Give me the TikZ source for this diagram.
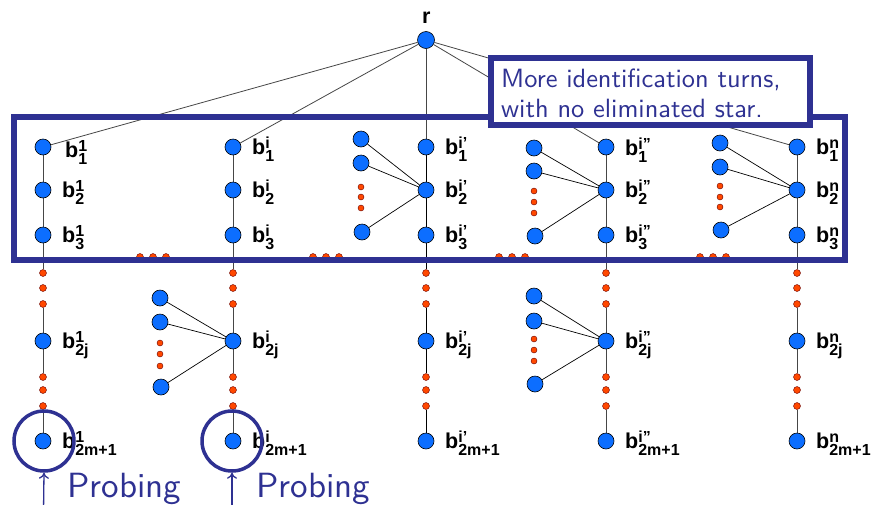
\documentclass[tikz,border=0pt]{standalone}
\usepackage{fontspec}
\setsansfont{lmsans10-regular.otf}
\newfontfamily\arialfont{Liberation Sans}
\usetikzlibrary{arrows.meta}
\pgfdeclarelayer{bg}
\pgfsetlayers{bg,main}

\definecolor{navy}{RGB}{46,49,146}
\definecolor{vblue}{RGB}{12,110,255}
\definecolor{dotred}{RGB}{255,72,0}
\definecolor{linegray}{RGB}{70,70,70}

% bold b with stacked super- and subscript
\newcommand\blab[2]{{\fontsize{21.5}{21}\selectfont b}\rlap{\raisebox{5.5pt}{\fontsize{16}{16}\selectfont #1}}\raisebox{-7pt}{\fontsize{16}{16}\selectfont #2}}

\begin{document}
\begin{tikzpicture}[x=1pt,y=-1pt,
  vtx/.style={circle, fill=vblue, draw=black, line width=0.6pt, minimum size=16pt, inner sep=0pt},
  reddot/.style={circle, fill=dotred, draw=black!60!red, line width=0.4pt, minimum size=7pt, inner sep=0pt},
  stardot/.style={reddot, minimum size=6pt},
  colline/.style={draw=linegray, line width=0.8pt},
  starline/.style={draw=black, line width=0.7pt},
  lab/.style={anchor=base west, inner sep=0pt, font=\arialfont\bfseries},
  frame/.style={draw=navy, line width=5.5pt},
  notebox/.style={draw=navy, fill=white, line width=6pt, rectangle, inner sep=0pt},
  notetext/.style={text=navy, font=\sffamily\fontsize{26.4}{30}\selectfont, align=left, inner sep=0pt},
  probe/.style={circle, draw=navy, line width=3.5pt, minimum size=60pt, inner sep=0pt},
  probetext/.style={text=navy, font=\sffamily\fontsize{35}{40}\selectfont, anchor=base west, inner sep=0pt},
  probearrow/.style={draw=navy, line width=1.3pt, -{To[length=6pt,width=10pt]}}
]
\useasboundingbox (0,0) rectangle (872,504);
\clip (0,0) rectangle (872,504);

% root
\node[vtx, minimum size=17pt] (r) at (426,40) {};
\node[lab, font=\arialfont\bfseries\fontsize{21.5}{21}\selectfont] (rl) at (422,23.5) {r};

% the five columns of the tree
\foreach \k/\x/\s/\lx/\ly/\cc in {a/43/1/22/3/linegray, b/233/i/19/0/linegray, c/426/i’/19/0/black, d/606/i”/19/1/linegray, e/797/n/19/0/linegray} {
  \node[vtx] (\k1) at (\x,147) {};
  \node[vtx] (\k2) at (\x,190) {};
  \node[vtx] (\k3) at (\x,235) {};
  \node[reddot] (\k u1) at (\x,273) {};
  \node[reddot] (\k u2) at (\x,288) {};
  \node[reddot] (\k u3) at (\x,304) {};
  \node[vtx] (\k j) at (\x,341) {};
  \node[reddot] (\k v1) at (\x,377) {};
  \node[reddot] (\k v2) at (\x,390) {};
  \node[reddot] (\k v3) at (\x,406) {};
  \node[vtx] (\k m) at (\x,441) {};
  \node[lab] (\k1l) at (\x+\lx,154+\ly) {\blab{\s}{1}};
  \node[lab] (\k2l) at (\x+19,197) {\blab{\s}{2}};
  \node[lab] (\k3l) at (\x+19,242) {\blab{\s}{3}};
  \node[lab] (\k jl) at (\x+19,348) {\blab{\s}{2j}};
  \node[lab] (\k ml) at (\x+19,448) {\blab{\s}{2m+1}};
  \begin{pgfonlayer}{bg}
    \draw[colline] (r) -- (\k1);
    \draw[colline, draw=\cc] (\k1) -- (\k2) -- (\k3) -- (\k u1);
    \draw[colline, draw=\cc] (\k u3) -- (\k j) -- (\k v1);
    \draw[colline, draw=\cc] (\k v3) -- (\k m);
  \end{pgfonlayer}
}

% stars hanging off the columns
\foreach \n/\h/\x/\ya/\yb/\da/\db/\dc/\yc in {
    p/c2/361/139/163/187/197/208/232,
    q/d2/534/148/171/191/202/213/236,
    s/e2/720/143/167/186/197/207/230,
    t/bj/160/298/322/343/354/366/387,
    u/dj/534/296/321/339/350/361/384} {
  \node[vtx] (\n1) at (\x,\ya) {};
  \node[vtx] (\n2) at (\x,\yb) {};
  \node[vtx] (\n3) at (\x+1,\yc) {};
  \node[stardot] (\n d1) at (\x,\da) {};
  \node[stardot] (\n d2) at (\x,\db) {};
  \node[stardot] (\n d3) at (\x,\dc) {};
  \begin{pgfonlayer}{bg}
    \draw[starline] (\n1) -- (\h) (\n2) -- (\h) (\n3) -- (\h);
  \end{pgfonlayer}
}

% dots between columns on the lower frame edge
\begin{pgfonlayer}{bg}
\foreach \g/\x in {g1/140, g2/313, g3/499, g4/700} {
  \node[reddot] (\g a) at (\x,257) {};
  \node[reddot] (\g b) at (\x+13,257) {};
  \node[reddot] (\g c) at (\x+26,257) {};
}
\end{pgfonlayer}

% frame around the first three levels
\draw[frame] (14,117) rectangle (845,260);

% note
\node[notebox, minimum width=319pt, minimum height=67pt] (note) at (650.5,91.5) {};
\node[notetext, anchor=base west] (notetxt) at (501,117) {More identification turns,\\with no eliminated star.};

% probing marks
\node[probe] (pr1) at (44,441) {};
\node[probe] (pr2) at (232,441) {};
\node[probetext] (pt1) at (67,497) {Probing};
\node[probetext] (pt2) at (256,497) {Probing};
\coordinate (pa1) at (43.5,512);
\coordinate (pa2) at (232,512);
\draw[probearrow] (pa1) -- (pr1.south);
\draw[probearrow] (pa2) -- (pr2.south);
\end{tikzpicture}
\end{document}
